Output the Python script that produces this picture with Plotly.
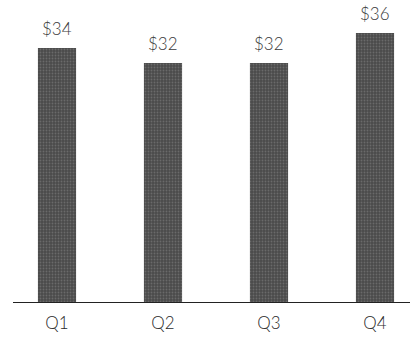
import plotly.graph_objects as go

quarters = ["Q1", "Q2", "Q3", "Q4"]
values = [34, 32, 32, 36]
labels = ["$34", "$32", "$32", "$36"]

W, H = 414, 338
fig = go.Figure()
fig.add_trace(go.Bar(
    x=quarters, y=values, width=0.36,
    marker=dict(color="#555555", line=dict(width=0),
                pattern=dict(shape=".", fgcolor="#8a8a8a", bgcolor="#4a4a4a", size=3, solidity=0.3)),
    hoverinfo="skip",
))
for q, v, t in zip(quarters, values, labels):
    fig.add_annotation(x=q, y=v, text=t, showarrow=False, yanchor="bottom", yshift=7,
                       font=dict(family="Lato", size=17, color="#3a3a3a", weight=300))

fig.add_shape(type="line", xref="paper", yref="y", x0=13/W, x1=410/W, y0=0, y1=0,
              line=dict(color="#222222", width=2))

fig.update_layout(
    width=W, height=H, margin=dict(l=0, r=0, t=0, b=35),
    paper_bgcolor="white", plot_bgcolor="white", showlegend=False,
    xaxis=dict(range=[-57/106, 3 + 39/106], showgrid=False, zeroline=False, showline=False,
               ticks="", ticklabelstandoff=8,
               tickfont=dict(family="Lato", size=17, color="#2a2a2a", weight=300)),
    yaxis=dict(range=[0, 303/7.5], visible=False),
)
fig.write_html("out.html")
